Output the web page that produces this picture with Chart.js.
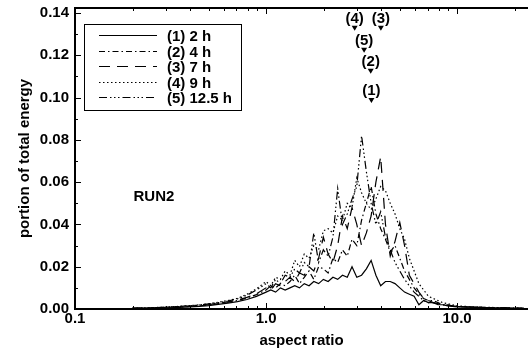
<!DOCTYPE html>
<html>
<head>
<meta charset="utf-8">
<script src="https://cdn.jsdelivr.net/npm/chart.js@4"></script>
<style>
html, body { margin: 0; padding: 0; background: #fff; }
</style>
</head>
<body>
<canvas id="myChart" width="528" height="353"></canvas>
<script>
// aspect ratio bins (x)
var aspect = [0.2, 0.224, 0.251, 0.282, 0.316, 0.355, 0.398, 0.447, 0.501, 0.562, 0.631, 0.708, 0.794, 0.891,
    1.0, 1.059, 1.122, 1.189, 1.259, 1.334, 1.413, 1.496, 1.585, 1.679, 1.778, 1.884, 1.995, 2.113, 2.239, 2.371,
    2.512, 2.661, 2.818, 2.985, 3.162, 3.350, 3.548, 3.758, 3.981, 4.217, 4.467, 4.732, 5.012, 5.309, 5.623, 5.957,
    6.310, 6.683, 7.079, 7.499, 7.943, 8.414, 8.913, 9.441, 10.0,
    11.2, 12.6, 14.1, 15.8, 17.8, 20.0, 22.4];

// portion of total energy, one array per time
var run1 = [0.0002, 0.0003, 0.0004, 0.0005, 0.0006, 0.0008, 0.0010, 0.0012, 0.0016, 0.0022, 0.0028, 0.0035, 0.0045, 0.0060,
    0.008, 0.009, 0.008, 0.010, 0.009, 0.010, 0.011, 0.010, 0.012, 0.011, 0.013, 0.012, 0.014, 0.013, 0.015, 0.014,
    0.016, 0.015, 0.020, 0.015, 0.016, 0.019, 0.023, 0.016, 0.011, 0.013, 0.013, 0.012, 0.010, 0.008, 0.007, 0.006,
    0.002, 0.004, 0.003, 0.003, 0.002, 0.002, 0.0015, 0.0012, 0.001,
    0.0009, 0.0008, 0.0006, 0.0005, 0.0004, 0.0003, 0.0003];
var run2 = [0.0003, 0.0004, 0.0005, 0.0006, 0.0008, 0.0010, 0.0012, 0.0015, 0.0019, 0.0025, 0.0032, 0.0040, 0.0052, 0.0068,
    0.009, 0.011, 0.010, 0.012, 0.011, 0.013, 0.016, 0.012, 0.015, 0.018, 0.014, 0.020, 0.019, 0.017, 0.024, 0.022,
    0.028, 0.025, 0.033, 0.030, 0.042, 0.050, 0.058, 0.045, 0.038, 0.033, 0.027, 0.030, 0.024, 0.018, 0.014, 0.010,
    0.007, 0.005, 0.004, 0.004, 0.003, 0.002, 0.002, 0.0015, 0.0012,
    0.0010, 0.0008, 0.0007, 0.0006, 0.0005, 0.0004, 0.0003];
var run3 = [0.0003, 0.0004, 0.0005, 0.0007, 0.0009, 0.0011, 0.0014, 0.0017, 0.0021, 0.0027, 0.0034, 0.0043, 0.0055, 0.0072,
    0.010, 0.009, 0.012, 0.011, 0.013, 0.015, 0.013, 0.017, 0.016, 0.020, 0.018, 0.024, 0.034, 0.026, 0.022, 0.030,
    0.044, 0.038, 0.048, 0.040, 0.030, 0.036, 0.044, 0.060, 0.072, 0.040, 0.025, 0.032, 0.041, 0.030, 0.016, 0.012,
    0.008, 0.005, 0.004, 0.003, 0.0025, 0.002, 0.0018, 0.0015, 0.0012,
    0.0010, 0.0009, 0.0007, 0.0006, 0.0005, 0.0004, 0.0003];
var run4 = [0.0004, 0.0005, 0.0006, 0.0008, 0.0010, 0.0013, 0.0016, 0.0020, 0.0025, 0.0032, 0.0040, 0.0050, 0.0070, 0.0095,
    0.013, 0.011, 0.015, 0.014, 0.018, 0.016, 0.023, 0.020, 0.026, 0.024, 0.030, 0.028, 0.037, 0.038, 0.036, 0.044,
    0.042, 0.050, 0.048, 0.062, 0.055, 0.050, 0.047, 0.052, 0.058, 0.056, 0.050, 0.045, 0.038, 0.033, 0.024, 0.018,
    0.012, 0.009, 0.006, 0.005, 0.004, 0.003, 0.0025, 0.002, 0.0015,
    0.0012, 0.0010, 0.0008, 0.0007, 0.0006, 0.0005, 0.0004];
var run5 = [0.0004, 0.0005, 0.0006, 0.0008, 0.0010, 0.0012, 0.0015, 0.0019, 0.0024, 0.0030, 0.0038, 0.0048, 0.0065, 0.0090,
    0.012, 0.010, 0.014, 0.012, 0.016, 0.015, 0.019, 0.017, 0.022, 0.020, 0.036, 0.022, 0.028, 0.025, 0.034, 0.057,
    0.040, 0.045, 0.052, 0.058, 0.082, 0.065, 0.050, 0.040, 0.046, 0.034, 0.028, 0.022, 0.018, 0.014, 0.011, 0.008,
    0.006, 0.004, 0.003, 0.003, 0.0025, 0.002, 0.0018, 0.0015, 0.0012,
    0.0010, 0.0009, 0.0007, 0.0006, 0.0005, 0.0004, 0.0003];

var seriesNames = ["(1) 2 h", "(2) 4 h", "(3) 7 h", "(4) 9 h", "(5) 12.5 h"];
var seriesDash = [[], [6, 3, 1.5, 3], [11, 7], [1.5, 2.5], [8, 3, 1.5, 2.5, 1.5, 2.5, 1.5, 3]];

var xTicks = [0.1, 1, 10];
var xMinor = [0.2, 0.3, 0.4, 0.5, 0.6, 0.7, 0.8, 0.9, 2, 3, 4, 5, 6, 7, 8, 9, 20];
var yTicks = [0, 0.02, 0.04, 0.06, 0.08, 0.10, 0.12, 0.14];
var yMinor = [0.01, 0.03, 0.05, 0.07, 0.09, 0.11, 0.13];

// peak markers
var peakLabels = ["(4)", "(3)", "(5)", "(2)", "(1)"];
var peakX = [2.91, 3.99, 3.26, 3.53, 3.56];
var peakY = [0.1316, 0.1316, 0.1212, 0.1113, 0.0975];

var runName = "RUN2";

var FONT = "bold 15px 'Liberation Sans', Arial, sans-serif";
Chart.defaults.font.family = "'Liberation Sans', Arial, sans-serif";
Chart.defaults.font.size = 15;
Chart.defaults.font.weight = "bold";
Chart.defaults.color = "#000";

function toPoints(vals) {
    return vals.map(function (v, i) { return {x: aspect[i], y: v}; });
}

var allRuns = [run1, run2, run3, run4, run5];
var datasets = allRuns.map(function (r, i) {
    return {
        label: seriesNames[i],
        data: toPoints(r),
        borderColor: "#000",
        borderWidth: 1.2,
        borderDash: seriesDash[i],
        pointRadius: 0,
        tension: 0,
        fill: false
    };
});

var framePlugin = {
    id: "frame",
    afterDatasetsDraw: function (chart) {
        var ctx = chart.ctx, a = chart.chartArea;
        var xs = chart.scales.x, ys = chart.scales.y;
        ctx.save();
        ctx.strokeStyle = "#000";
        ctx.fillStyle = "#000";

        // top frame
        ctx.lineWidth = 2;
        ctx.beginPath();
        ctx.moveTo(a.left - 1, a.top);
        ctx.lineTo(a.right, a.top);
        ctx.stroke();

        // inward ticks
        ctx.lineWidth = 1;
        ctx.beginPath();
        xTicks.concat(xMinor).forEach(function (v) {
            var len = xTicks.indexOf(v) >= 0 ? 6 : 3;
            var x = Math.round(xs.getPixelForValue(v)) + 0.5;
            ctx.moveTo(x, a.bottom); ctx.lineTo(x, a.bottom - len);
            ctx.moveTo(x, a.top); ctx.lineTo(x, a.top + len);
        });
        yTicks.concat(yMinor).forEach(function (v) {
            var len = yTicks.indexOf(v) >= 0 ? 6 : 3;
            var y = Math.round(ys.getPixelForValue(v)) + 0.5;
            ctx.moveTo(a.left, y); ctx.lineTo(a.left + len, y);
        });
        ctx.stroke();

        // legend box
        ctx.lineWidth = 1;
        ctx.strokeRect(84.5, 24.5, 157, 86);
        ctx.font = FONT;
        ctx.textAlign = "left";
        ctx.textBaseline = "middle";
        chart.data.datasets.forEach(function (ds, i) {
            var y = Math.round(35 + i * 15.6) + 0.5;
            ctx.lineWidth = 1.2;
            ctx.setLineDash(ds.borderDash);
            ctx.beginPath();
            ctx.moveTo(99, y); ctx.lineTo(157, y);
            ctx.stroke();
            ctx.setLineDash([]);
            ctx.fillText(ds.label, 167, y + 1);
        });

        // peak markers
        ctx.textAlign = "center";
        peakLabels.forEach(function (lab, i) {
            var x = xs.getPixelForValue(peakX[i]);
            var tip = ys.getPixelForValue(peakY[i]);
            ctx.fillText(lab, x, tip - 12);
            ctx.beginPath();
            ctx.moveTo(x - 3, tip - 5);
            ctx.lineTo(x + 3, tip - 5);
            ctx.lineTo(x, tip);
            ctx.closePath();
            ctx.fill();
        });

        // run name
        ctx.fillText(runName, xs.getPixelForValue(0.259), ys.getPixelForValue(0.053));
        ctx.restore();
    }
};

new Chart("myChart", {
    type: "line",
    data: {datasets: datasets},
    options: {
        responsive: false,
        animation: false,
        devicePixelRatio: 1,
        layout: {padding: {top: 8, right: 0, left: 0, bottom: 0}},
        plugins: {legend: {display: false}, tooltip: {enabled: false}},
        scales: {
            x: {
                type: "logarithmic",
                min: 0.1,
                max: 23.5,
                grid: {display: false, drawTicks: false},
                border: {display: true, width: 2, color: "#000"},
                afterBuildTicks: function (axis) {
                    axis.ticks = xTicks.map(function (v) { return {value: v}; });
                },
                afterFit: function (axis) {
                    axis.height = 44;
                    axis.paddingLeft = 0;
                    axis.paddingRight = 0;
                },
                ticks: {
                    padding: 1,
                    maxRotation: 0,
                    autoSkip: false,
                    callback: function (v) { return Number(v).toFixed(1); }
                },
                title: {display: true, text: "aspect ratio", padding: {top: 0, bottom: 3}}
            },
            y: {
                type: "linear",
                min: 0,
                max: 0.1424,
                grid: {display: false, drawTicks: false},
                border: {display: true, width: 2, color: "#000"},
                afterBuildTicks: function (axis) {
                    axis.ticks = yTicks.map(function (v) { return {value: v}; });
                },
                afterFit: function (axis) {
                    axis.width = 75;
                    axis.paddingTop = 0;
                    axis.paddingBottom = 0;
                },
                ticks: {
                    padding: 6,
                    callback: function (v) { return v.toFixed(2); }
                },
                title: {display: true, text: "portion of total energy", padding: {top: 16, bottom: 0}}
            }
        }
    },
    plugins: [framePlugin]
});
</script>
</body>
</html>
